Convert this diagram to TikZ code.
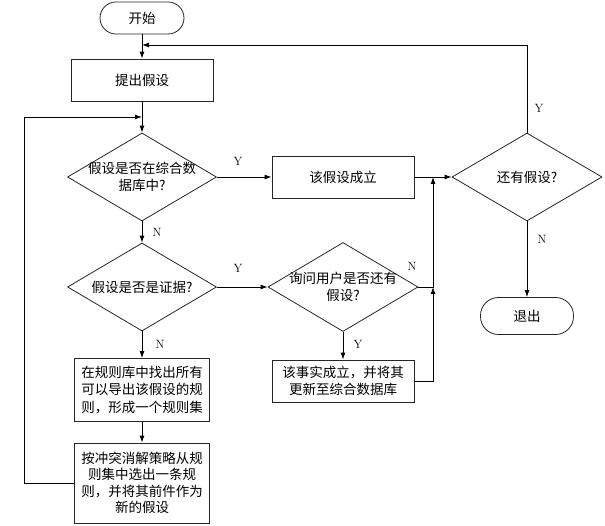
\documentclass[tikz,border=0pt]{standalone}
\usepackage{fontspec}
\usepackage{tikz}
\usetikzlibrary{arrows.meta, shapes.geometric, positioning}
\newfontfamily\cjk{Noto Sans CJK SC}
\definecolor{linegray}{rgb}{0.15, 0.15, 0.15}

\tikzset{
	procbox/.style={draw=linegray, line width=0.8pt, minimum width=142pt, minimum height=42pt, inner sep=0pt, align=center, font=\cjk\fontsize{13.5}{17.5}\selectfont},
	termbox/.style={draw=linegray, line width=0.8pt, rounded corners=16pt, minimum width=84pt, minimum height=32pt, inner sep=0pt, font=\cjk\fontsize{13.5}{17.5}\selectfont},
	decision/.style={draw=linegray, line width=0.8pt, diamond, minimum width=149pt, minimum height=88pt, inner sep=0pt},
	dtext/.style={align=center, inner sep=0pt, font=\cjk\fontsize{13.5}{17.5}\selectfont},
	flow/.style={line width=0.9pt, -{Latex[length=7pt, width=5pt]}},
	yn/.style={inner sep=0pt, font=\fontsize{12}{14}\selectfont}
}

\begin{document}
\begin{tikzpicture}[x=1pt, y=-1pt]
		\useasboundingbox (0,0) rectangle (605,526);

		% left column
		\node [termbox] (start) at (142,18) {开始};
		\node [procbox] (propose) at (142,80) {提出假设};
		\node [decision] (indb) at (142,177) {};
		\node [dtext] (indbtext) at (indb) {假设是否在综合数\\据库中?};
		\node [decision] (isev) at (142,287) {};
		\node [dtext] (isevtext) at (isev) {假设是否是证据?};
		\node [procbox, minimum width=135pt, minimum height=63pt] (findrules) at (142,390) {在规则库中找出所有\\可以导出该假设的规\\则，形成一个规则集};
		\node [procbox, minimum width=135pt, minimum height=80pt, font=\cjk\fontsize{13.5}{16.5}\selectfont] (pick) at (142,483) {按冲突消解策略从规\\则集中选出一条规\\则，并将其前件作为\\新的假设};

		% middle column
		\node [procbox] (holds) at (343,177) {该假设成立};
		\node [decision, minimum width=150pt, minimum height=89pt] (askuser) at (343,287) {};
		\node [dtext] (askusertext) at (askuser) {询问用户是否还有\\假设?};
		\node [procbox] (fact) at (343,381) {该事实成立，并将其\\更新至综合数据库};

		% right column
		\node [decision, minimum width=150pt] (more) at (527,177) {};
		\node [dtext] (moretext) at (more) {还有假设?};
		\node [termbox, minimum width=93pt, minimum height=37pt, rounded corners=18pt] (quit) at (527,316) {退出};

		\coordinate (topin) at (142,45);
		\coordinate (loopin) at (142,117);
		\coordinate (joinlow) at (433,287);
		\coordinate (joinhigh) at (433,177);

		\draw [flow] (start) -- (propose);
		\draw [flow] (propose) -- (indb);
		\draw [flow] (indb) -- (holds);
		\draw [flow] (indb) -- (isev);
		\draw [flow] (isev) -- (askuser);
		\draw [flow] (isev) -- (findrules);
		\draw [flow] (findrules) -- (pick);
		\draw [flow] (pick.west) -- ++(-50,0) |- (loopin);
		\draw [flow] (askuser) -- (fact);
		\draw [flow] (fact.east) -| (joinlow);
		\draw [flow] (askuser.east) -- (joinlow) -- (joinhigh);
		\draw [flow] (holds.east) -- (more.west);
		\draw [flow] (more.north) |- (topin);
		\draw [flow] (more) -- (quit);

		\node [yn] (y1) at (238,161) {Y};
		\node [yn] (n1) at (157,232) {N};
		\node [yn] (y2) at (238,268) {Y};
		\node [yn] (n2) at (160,344) {N};
		\node [yn] (n3) at (412,266) {N};
		\node [yn] (y3) at (358,344) {Y};
		\node [yn] (y4) at (539,108) {Y};
		\node [yn] (n4) at (542,239) {N};

	\end{tikzpicture}
\end{document}
